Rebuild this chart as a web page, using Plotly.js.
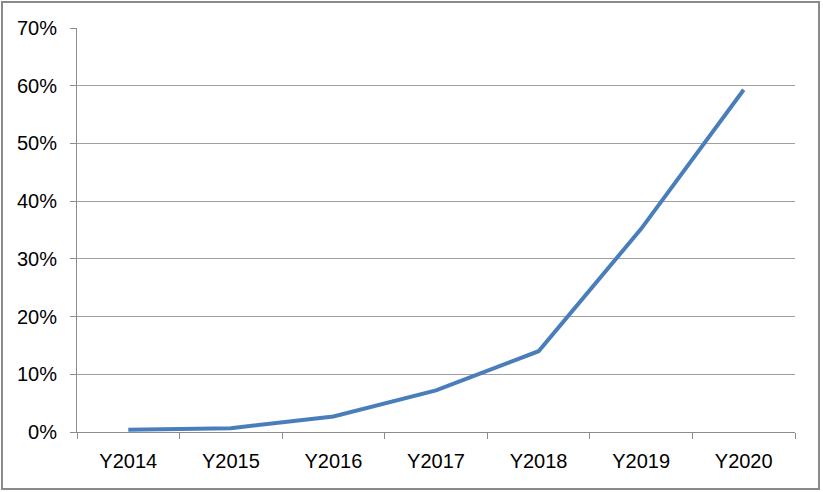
<!DOCTYPE html>
<html>
<head>
<meta charset="utf-8">
<script src="https://cdn.plot.ly/plotly-3.0.1.min.js"></script>
<style>
  body { margin: 0; background: #fff; }
  #chart { width: 823px; height: 492px; }
  #frame {
    position: absolute; left: 1px; top: 1px; width: 819px; height: 489px;
    box-sizing: border-box; border: 2px solid #8a8a8a; pointer-events: none;
  }
</style>
</head>
<body>
<div id="chart"></div>
<div id="frame"></div>
<script>
// years along the bottom and the share for each
const years = ["Y2014", "Y2015", "Y2016", "Y2017", "Y2018", "Y2019", "Y2020"];
const share = [0.004, 0.0066, 0.027, 0.072, 0.14, 0.352, 0.593];
const yTicks = [0, 0.1, 0.2, 0.3, 0.4, 0.5, 0.6, 0.7];

const trace = {
    x: years,
    y: share,
    type: "scatter",
    mode: "lines",
    line: { color: "#4a7ebb", width: 4 }
};

const font = { family: "Liberation Sans, Arial, sans-serif", size: 20, color: "#000" };

const layout = {
    width: 823,
    height: 492,
    margin: { l: 77, r: 28, t: 28, b: 60 },
    paper_bgcolor: "#fff",
    plot_bgcolor: "#fff",
    showlegend: false,
    font: font,
    xaxis: {
        type: "category",
        range: [-0.5, 6.5],
        tickson: "boundaries",
        ticks: "outside",
        ticklen: 6,
        tickcolor: "#8c8c8c",
        ticklabelstandoff: 11,
        showline: true,
        linecolor: "#8c8c8c",
        linewidth: 1,
        showgrid: false,
        zeroline: false,
        tickfont: font,
        fixedrange: true
    },
    yaxis: {
        range: [0, 0.7],
        tickvals: yTicks,
        tickformat: ".0%",
        ticks: "outside",
        ticklen: 6,
        tickcolor: "#8c8c8c",
        ticklabelstandoff: 9,
        showline: true,
        linecolor: "#8c8c8c",
        linewidth: 1,
        gridcolor: "#a0a0a0",
        gridwidth: 1,
        zeroline: false,
        tickfont: font,
        fixedrange: true
    }
};

Plotly.newPlot("chart", [trace], layout, { displayModeBar: false, staticPlot: true });
</script>
</body>
</html>
